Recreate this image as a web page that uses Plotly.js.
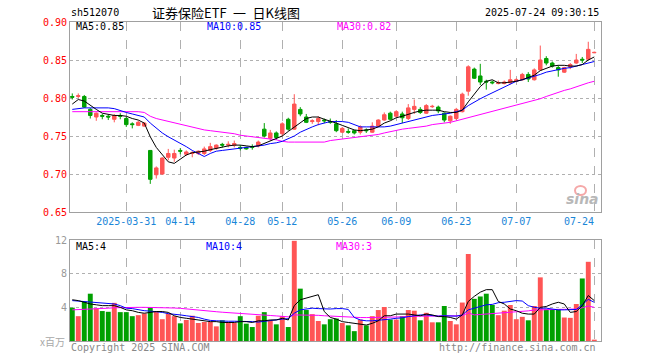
<!DOCTYPE html>
<html><head><meta charset="utf-8">
<script src="https://cdn.plot.ly/plotly-3.0.1.min.js"></script>
<style>html,body{margin:0;padding:0;background:#fff}#chart{width:660px;height:360px}</style>
</head><body><div id="chart"></div>
<script>
// ---- data ----
const dates = [
 '2025-03-18','2025-03-19','2025-03-20','2025-03-21','2025-03-24','2025-03-25','2025-03-26','2025-03-27','2025-03-28','2025-03-31',
 '2025-04-01','2025-04-02','2025-04-03','2025-04-07','2025-04-08','2025-04-09','2025-04-10','2025-04-11','2025-04-14','2025-04-15',
 '2025-04-16','2025-04-17','2025-04-18','2025-04-21','2025-04-22','2025-04-23','2025-04-24','2025-04-25','2025-04-28','2025-04-29',
 '2025-04-30','2025-05-06','2025-05-07','2025-05-08','2025-05-09','2025-05-12','2025-05-13','2025-05-14','2025-05-15','2025-05-16',
 '2025-05-19','2025-05-20','2025-05-21','2025-05-22','2025-05-23','2025-05-26','2025-05-27','2025-05-28','2025-05-29','2025-05-30',
 '2025-06-03','2025-06-04','2025-06-05','2025-06-06','2025-06-09','2025-06-10','2025-06-11','2025-06-12','2025-06-13','2025-06-16',
 '2025-06-17','2025-06-18','2025-06-19','2025-06-20','2025-06-23','2025-06-24','2025-06-25','2025-06-26','2025-06-27','2025-06-30',
 '2025-07-01','2025-07-02','2025-07-03','2025-07-04','2025-07-07','2025-07-08','2025-07-09','2025-07-10','2025-07-11','2025-07-14',
 '2025-07-15','2025-07-16','2025-07-17','2025-07-18','2025-07-21','2025-07-22','2025-07-23','2025-07-24'];

const openP = [0.802,0.802,0.802,0.785,0.775,0.777,0.776,0.772,0.777,0.773,
 0.766,0.764,0.763,0.731,0.699,0.700,0.722,0.721,0.731,0.726,
 0.727,0.727,0.727,0.731,0.734,0.739,0.738,0.738,0.735,0.735,
 0.736,0.737,0.759,0.747,0.754,0.753,0.772,0.759,0.785,0.775,
 0.769,0.769,0.771,0.769,0.766,0.755,0.756,0.757,0.755,0.758,
 0.755,0.763,0.771,0.780,0.776,0.779,0.773,0.785,0.785,0.780,
 0.7885,0.788,0.780,0.770,0.773,0.782,0.809,0.838,0.829,0.822,
 0.821,0.819,0.819,0.820,0.822,0.824,0.831,0.824,0.837,0.852,
 0.846,0.840,0.834,0.841,0.846,0.851,0.851,0.8595];
const highP = [0.806,0.806,0.804,0.787,0.781,0.779,0.778,0.779,0.780,0.775,
 0.768,0.770,0.768,0.731,0.710,0.722,0.733,0.732,0.734,0.731,
 0.730,0.731,0.736,0.741,0.739,0.741,0.743,0.744,0.738,0.736,
 0.739,0.744,0.767,0.758,0.756,0.768,0.774,0.805,0.788,0.779,
 0.772,0.776,0.773,0.773,0.771,0.762,0.760,0.758,0.764,0.760,
 0.768,0.772,0.781,0.782,0.784,0.782,0.792,0.798,0.788,0.792,
 0.791,0.790,0.781,0.777,0.787,0.807,0.843,0.840,0.845,0.824,
 0.823,0.823,0.823,0.837,0.826,0.833,0.834,0.839,0.869,0.855,
 0.848,0.843,0.841,0.846,0.858,0.854,0.874,0.861];
const lowP = [0.798,0.800,0.787,0.773,0.770,0.772,0.771,0.768,0.772,0.762,
 0.760,0.763,0.762,0.687,0.694,0.699,0.718,0.716,0.726,0.724,
 0.722,0.725,0.725,0.729,0.732,0.735,0.735,0.735,0.731,0.732,
 0.732,0.735,0.748,0.744,0.745,0.750,0.757,0.758,0.776,0.767,
 0.766,0.764,0.767,0.766,0.755,0.754,0.753,0.752,0.752,0.754,
 0.754,0.762,0.770,0.771,0.774,0.767,0.771,0.779,0.779,0.779,
 0.787,0.780,0.768,0.766,0.771,0.781,0.803,0.825,0.817,0.811,
 0.818,0.818,0.818,0.818,0.821,0.823,0.821,0.823,0.836,0.843,
 0.840,0.828,0.833,0.838,0.845,0.846,0.850,0.859];
const closeP = [0.801,0.803,0.788,0.777,0.780,0.776,0.775,0.777,0.776,0.765,
 0.765,0.768,0.767,0.693,0.708,0.721,0.727,0.727,0.730,0.729,
 0.728,0.730,0.733,0.736,0.738,0.738,0.739,0.740,0.734,0.733,
 0.735,0.742,0.750,0.754,0.748,0.766,0.759,0.792,0.779,0.768,
 0.770,0.773,0.770,0.768,0.757,0.760,0.755,0.754,0.762,0.757,
 0.763,0.771,0.778,0.772,0.782,0.774,0.787,0.789,0.781,0.790,
 0.789,0.783,0.771,0.776,0.785,0.805,0.841,0.826,0.821,0.821,
 0.820,0.820,0.821,0.824,0.824,0.831,0.825,0.837,0.850,0.846,
 0.842,0.837,0.840,0.844,0.850,0.850,0.864,0.860];

const ma5 = [0.792,0.798,0.796,0.790,0.785,0.780,0.778,0.777,0.777,0.776,
 0.773,0.771,0.767,0.749,0.735,0.725,0.716,0.714,0.719,0.725,
 0.728,0.729,0.730,0.732,0.734,0.736,0.737,0.738,0.738,0.737,
 0.736,0.737,0.740,0.743,0.746,0.750,0.756,0.762,0.768,0.773,
 0.775,0.775,0.772,0.770,0.767,0.764,0.761,0.758,0.757,0.758,
 0.759,0.762,0.767,0.770,0.774,0.776,0.779,0.781,0.783,0.784,
 0.784,0.784,0.782,0.781,0.781,0.784,0.795,0.805,0.815,0.822,
 0.824,0.820,0.820,0.821,0.822,0.824,0.827,0.830,0.836,0.839,
 0.842,0.843,0.843,0.842,0.842,0.844,0.850,0.854];
const ma10 = [0.785,0.786,0.787,0.787,0.787,0.787,0.787,0.786,0.783,0.781,
 0.779,0.777,0.775,0.767,0.760,0.754,0.749,0.745,0.741,0.736,
 0.731,0.727,0.723,0.727,0.730,0.731,0.732,0.733,0.734,0.735,
 0.736,0.737,0.738,0.740,0.741,0.743,0.746,0.750,0.755,0.759,
 0.762,0.765,0.767,0.769,0.769,0.769,0.768,0.765,0.762,0.762,
 0.762,0.762,0.762,0.763,0.765,0.767,0.770,0.772,0.774,0.776,
 0.777,0.778,0.779,0.780,0.782,0.784,0.790,0.795,0.799,0.803,
 0.807,0.810,0.814,0.818,0.822,0.824,0.826,0.828,0.831,0.834,
 0.836,0.838,0.839,0.840,0.842,0.843,0.845,0.848];
const ma30 = [0.782,0.782,0.782,0.782,0.782,0.782,0.782,0.782,0.782,0.782,
 0.782,0.782,0.781,0.776,0.773,0.771,0.769,0.767,0.765,0.763,
 0.762,0.760,0.758,0.757,0.756,0.755,0.754,0.753,0.751,0.750,
 0.749,0.748,0.747,0.746,0.745,0.743,0.742,0.742,0.742,0.742,
 0.742,0.742,0.742,0.744,0.745,0.746,0.747,0.748,0.749,0.750,
 0.751,0.752,0.754,0.756,0.758,0.759,0.760,0.761,0.762,0.763,
 0.765,0.766,0.767,0.768,0.770,0.772,0.774,0.776,0.778,0.780,
 0.782,0.784,0.786,0.788,0.790,0.792,0.794,0.796,0.799,0.802,
 0.805,0.808,0.810,0.812,0.815,0.818,0.820,0.822];

// volume, in millions
const volume = [3.96,2.95,4.69,5.62,3.88,3.56,3.47,4.53,3.43,3.43,
 2.95,3.07,3.27,4.00,3.47,2.59,3.27,2.95,2.10,2.50,
 3.00,2.14,2.26,2.26,1.74,2.46,2.26,2.14,2.95,2.06,
 1.66,3.00,3.43,2.38,1.98,2.95,1.66,11.9,6.22,3.68,
 3.19,2.38,1.98,2.59,2.67,2.14,1.86,1.17,2.55,1.86,
 2.95,3.68,4.04,2.55,2.55,2.95,3.68,3.60,2.46,3.35,
 2.22,2.22,4.16,2.38,1.98,4.57,10.34,5.01,5.29,5.62,
 4.28,3.07,3.60,4.28,2.59,2.87,2.46,4.16,7.56,3.76,
 3.76,3.76,2.79,2.75,4.40,7.43,9.41,0.16];
const vma5 = [4.9,4.8,4.6,4.4,4.3,4.2,4.2,4.2,4.0,3.7,
 3.6,3.4,3.3,3.4,3.5,3.5,3.4,3.0,2.8,2.7,
 2.6,2.5,2.4,2.3,2.3,2.2,2.2,2.2,2.3,2.3,
 2.2,2.4,2.4,2.5,2.5,2.7,2.5,4.2,4.9,5.1,
 5.3,5.5,3.5,2.8,2.6,2.3,2.2,2.1,2.0,1.9,
 2.1,2.4,3.0,3.0,3.2,3.2,3.2,3.1,3.0,3.2,
 3.1,2.9,2.9,2.8,2.6,3.1,4.7,5.3,5.8,6.1,
 6.1,4.7,4.4,3.8,3.6,3.3,3.2,3.2,4.0,4.1,
 4.4,4.6,4.4,3.4,3.5,4.2,5.4,4.8];
const vma10 = [4.8,4.75,4.7,4.6,4.55,4.5,4.45,4.4,4.2,3.9,
 3.85,3.7,3.6,3.55,3.5,3.4,3.25,3.2,3.1,3.0,
 2.9,2.8,2.6,2.45,2.4,2.35,2.35,2.35,2.35,2.35,
 2.3,2.25,2.35,2.45,2.55,2.6,2.65,3.3,3.7,3.8,
 3.9,3.85,3.8,3.8,3.85,3.85,3.75,2.8,2.5,2.4,
 2.4,2.45,2.55,2.6,2.7,2.75,2.9,3.0,3.1,3.1,
 3.0,2.95,3.0,3.0,2.95,3.1,3.7,3.9,4.1,4.3,
 4.35,4.55,4.6,4.7,4.8,4.75,4.2,4.0,3.9,3.9,
 3.8,3.7,3.7,3.7,3.75,4.3,4.95,4.6];
const vma30 = [3.7,3.72,3.75,3.8,3.85,3.88,3.9,3.95,3.98,4.0,
 4.0,4.0,4.0,4.0,4.0,4.0,3.98,3.92,3.88,3.8,
 3.75,3.68,3.6,3.55,3.48,3.42,3.38,3.33,3.3,3.27,
 3.2,3.15,3.08,3.03,2.98,2.93,2.87,3.1,3.1,3.08,
 3.07,3.05,3.0,2.95,2.9,2.86,2.82,2.79,2.79,2.78,
 2.78,2.79,2.8,2.82,2.85,2.88,2.92,2.95,2.95,2.95,
 2.95,2.95,2.96,2.95,2.94,3.0,3.35,3.1,3.15,3.2,
 3.23,3.27,3.3,3.38,3.45,3.5,3.58,3.68,3.72,3.75,
 3.76,3.76,3.76,3.76,3.8,3.95,4.16,4.0];

const tickDates = ['2025-03-31','2025-04-14','2025-04-28','2025-05-12','2025-05-26','2025-06-09','2025-06-23','2025-07-07','2025-07-24'];
const tickLabels = ['2025-03-31','04-14','04-28','05-12','05-26','06-09','06-23','07-07','07-24'];
const priceTicks = [0.65,0.70,0.75,0.80,0.85,0.90];
const volTicks = [4,8,12];

// ---- styling / layout ----
const RED = '#ff5555', GREEN = '#00a000', TICKBLUE = '#1a86d8';
const MONO = 'DejaVu Sans Mono';
const L = 70, R = 601, T = 22, B = 341;
const fx = p => (p - L) / (R - L);
const fy = p => (B - p) / (B - T);
const volColors = closeP.map((c, i) => c >= openP[i] ? RED : GREEN);
// last tick label is drawn shifted left (as in the reference) via an annotation
const lastIdx = tickLabels.length - 1;
const axisTickText = tickLabels.map((t, i) => i === lastIdx ? '' : t);

const traces = [
  {type:'candlestick', x:dates, open:openP, high:highP, low:lowP, close:closeP,
   xaxis:'x', yaxis:'y', whiskerwidth:0,
   increasing:{line:{color:RED,width:1}, fillcolor:RED},
   decreasing:{line:{color:GREEN,width:1}, fillcolor:GREEN}, hoverinfo:'skip'},
  {type:'scatter', mode:'lines', x:dates, y:ma30, xaxis:'x', yaxis:'y', line:{color:'#ff00ff',width:1}},
  {type:'scatter', mode:'lines', x:dates, y:ma10, xaxis:'x', yaxis:'y', line:{color:'#0000ff',width:1}},
  {type:'scatter', mode:'lines', x:dates, y:ma5, xaxis:'x', yaxis:'y', line:{color:'#000000',width:1}},
  {type:'bar', x:dates, y:volume, xaxis:'x2', yaxis:'y2', width:0.82, marker:{color:volColors, line:{width:0}}},
  {type:'scatter', mode:'lines', x:dates, y:vma30, xaxis:'x2', yaxis:'y2', line:{color:'#ff00ff',width:1}},
  {type:'scatter', mode:'lines', x:dates, y:vma10, xaxis:'x2', yaxis:'y2', line:{color:'#0000ff',width:1}},
  {type:'scatter', mode:'lines', x:dates, y:vma5, xaxis:'x2', yaxis:'y2', line:{color:'#000000',width:1}}
];

const xCommon = {
  type:'category', range:[-0.38, 88.12], tickmode:'array', tickvals:tickDates, ticktext:axisTickText,
  showgrid:true, gridcolor:'#b0b0b0', griddash:'dash', gridwidth:1,
  showline:true, linecolor:'#a0a0a0', linewidth:1, mirror:true, ticks:'', fixedrange:true,
  zeroline:false
};

const ann = (text, x, y, color, opts={}) => Object.assign({
  text, x:fx(x), y:fy(y), xref:'paper', yref:'paper', showarrow:false,
  xanchor:'left', yanchor:'middle', font:{family:MONO, size:10, color}
}, opts);

const annotations = [
  ann('sh512070', 69, 13, '#000'),
  ann('证券保险ETF\u2002一\u2002日K线图', 150, 12, '#000', {font:{family:'Noto Sans CJK SC', size:13, color:'#000'}}),
  ann('2025-07-24 09:30:15', 601, 13, '#000', {xanchor:'right'}),
  ann('MA5:0.85', 74, 26.5, '#000'),
  ann('MA10:0.85', 205, 26.5, '#0000ff'),
  ann('MA30:0.82', 335, 26.5, '#ff00ff'),
  ann('MA5:4', 74, 246, '#000'),
  ann('MA10:4', 204, 246, '#0000ff'),
  ann('MA30:3', 334, 246, '#ff00ff'),
  ann(tickLabels[lastIdx], 579, 221, TICKBLUE, {xanchor:'center'}),
  ann('x百万', 67, 341, '#a0a0a0', {xanchor:'right', font:{family:'Noto Sans CJK SC', size:10, color:'#a8a8a8'}}),
  ann('Copyright 2025 SINA.COM', 69, 347, '#888'),
  ann('http://finance.sina.com.cn', 598, 347, '#888', {xanchor:'right'}),
  ann('sina', 582, 199, '#b8b8b8', {xanchor:'center', font:{family:'DejaVu Sans', size:14, color:'#b8b8b8', weight:'bold', style:'italic'}})
];

const layout = {
  width:660, height:360, paper_bgcolor:'#fff', plot_bgcolor:'#fff',
  margin:{l:L, r:660-R, t:T, b:360-B, pad:0},
  showlegend:false, boxgap:0.17, bargap:0.17, hovermode:false,
  xaxis: Object.assign({}, xCommon, {anchor:'y', rangeslider:{visible:false},
    showticklabels:true, tickfont:{family:MONO, size:10, color:TICKBLUE}}),
  xaxis2: Object.assign({}, xCommon, {anchor:'y2', matches:'x', showticklabels:false}),
  yaxis: {domain:[fy(212), 1], range:[0.65, 0.90], tickmode:'array', tickvals:priceTicks,
    ticktext:priceTicks.map(v => v.toFixed(2)), tickfont:{family:MONO, size:10, color:'#ff0000'},
    showgrid:true, gridcolor:'#b0b0b0', griddash:'dot', gridwidth:1, zeroline:false,
    showline:true, linecolor:'#a0a0a0', mirror:true, ticks:'', fixedrange:true},
  yaxis2: {domain:[0, fy(240)], range:[0, 12], tickmode:'array', tickvals:volTicks,
    ticktext:volTicks.map(String), tickfont:{family:MONO, size:10, color:'#999'},
    showgrid:true, gridcolor:'#b0b0b0', griddash:'dot', gridwidth:1, zeroline:false,
    showline:true, linecolor:'#a0a0a0', mirror:true, ticks:'', fixedrange:true},
  annotations,
  shapes: [
    {type:'circle', xref:'paper', yref:'paper', x0:fx(575), x1:fx(586), y0:fy(195), y1:fy(186),
     line:{color:'#f5a8a8', width:2}}
  ]
};

Plotly.newPlot('chart', traces, layout, {staticPlot:true, displayModeBar:false});
</script>
</body></html>
